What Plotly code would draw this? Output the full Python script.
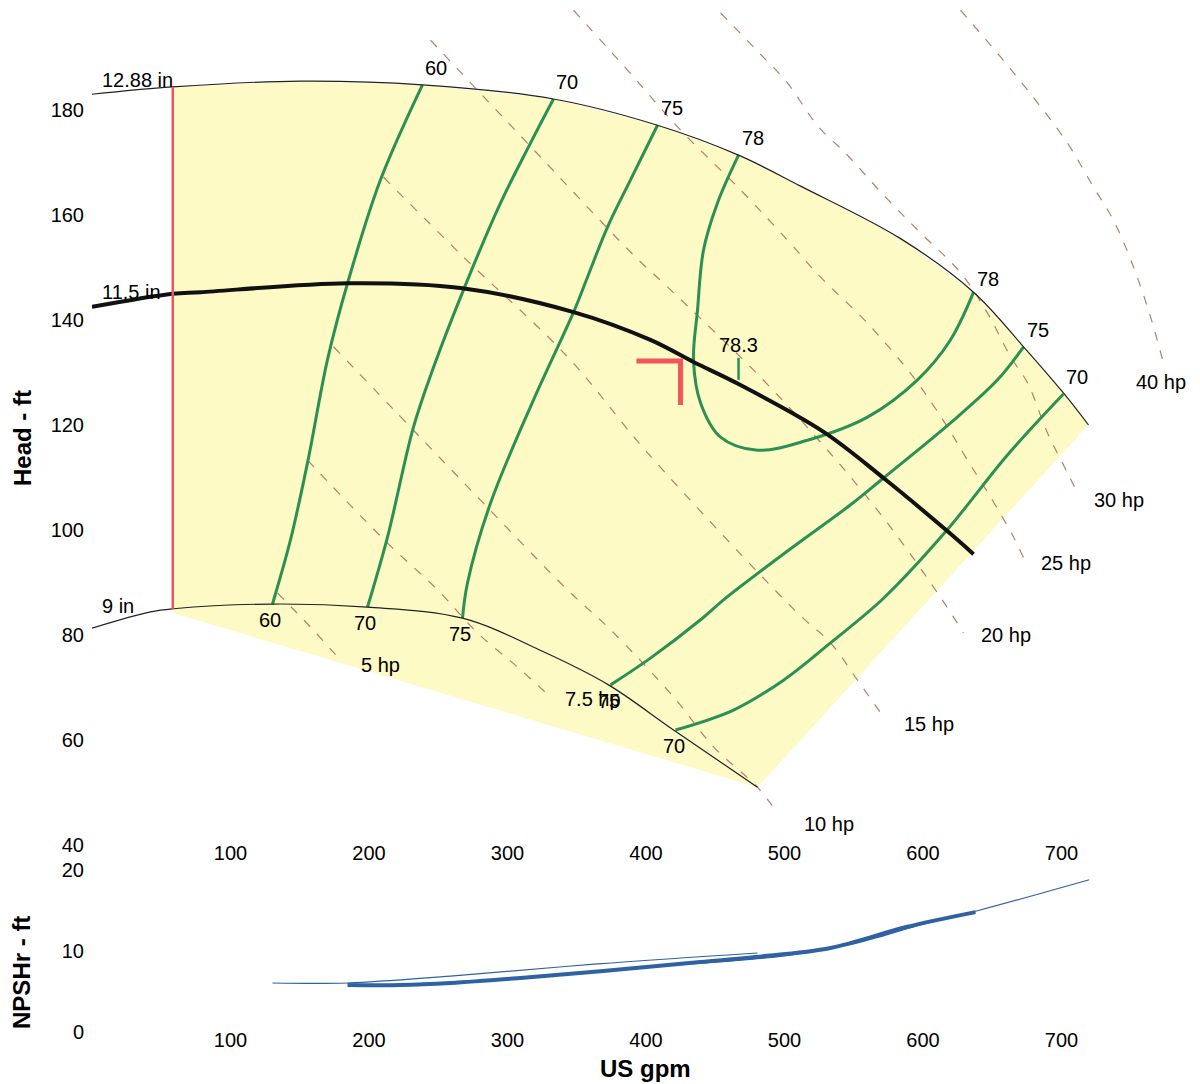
import plotly.graph_objects as go

# ---------------- Data ----------------
flow_ticks = [100, 200, 300, 400, 500, 600, 700]
head_ticks = [40, 60, 80, 100, 120, 140, 160, 180]
npsh_ticks = [0, 10, 20]

# Impeller diameter curves (US gpm, ft)
d1288_q = [0, 58.1, 150.5, 238.6, 333.2, 408.3, 466.8, 511.6, 583.8, 636.5, 672.6, 701.4, 719.5]
d1288_h = [183.0, 184.4, 185.5, 184.8, 182.1, 177.1, 171.4, 165.5, 155.5, 145.3, 134.9, 126.1, 120.0]
d115_q = [0, 58.1, 78.3, 184.5, 266.1, 347.7, 403.2, 434.3, 466.8, 528.2, 571.5, 618.4, 636.5]
d115_h = [142.5, 145.0, 145.3, 147.0, 146.1, 141.5, 136.2, 132.0, 127.8, 118.7, 109.9, 99.6, 95.4]
d9_q = [0, 42.2, 58.8, 130.3, 198.9, 267.5, 326.0, 372.9, 419.9, 480.5]
d9_h = [81.3, 84.4, 85.0, 85.9, 85.3, 83.2, 76.8, 70.5, 61.9, 51.0]

# Minimum flow line
minflow_q = [58.3, 58.3]
minflow_h = [85.0, 184.4]

# Operating region outline (yellow)
region_q = [58.3, 150.5, 238.6, 333.2, 408.3, 466.8, 511.6, 583.8, 636.5, 672.6, 701.4, 719.5, 480.5, 58.3]
region_h = [184.4, 185.5, 184.8, 182.1, 177.1, 171.4, 165.5, 155.5, 145.3, 134.9, 126.1, 120.0, 51.0, 84.2]

# Efficiency iso-curves (%)
eff60_q = [238.6, 208.3, 184.5, 170.0, 155.6, 143.3, 130.3]
eff60_h = [184.8, 166.7, 147.0, 132.4, 112.8, 98.1, 85.9]
eff70_q = [333.2, 316.6, 295.0, 269.7, 246.6, 232.1, 213.4, 198.9]
eff70_h = [182.1, 173.7, 162.3, 146.7, 131.0, 119.6, 98.7, 85.3]
eff75_q = [408.3, 388.8, 372.2, 357.8, 347.7, 318.8, 287.7, 271.1, 267.5]
eff75_h = [177.1, 166.7, 157.7, 148.2, 141.5, 124.8, 105.1, 89.9, 83.2]
eff78_q = [466.8, 451.6, 441.5, 437.2, 434.3, 439.4, 453.8, 480.5, 516.6, 559.9, 596.0, 619.8, 636.5]
eff78_h = [171.4, 162.3, 153.3, 141.9, 132.4, 124.2, 117.7, 115.2, 117.1, 121.5, 128.6, 136.2, 145.3]
eff75r_q = [672.6, 653.8, 619.9, 571.5, 547.7, 502.2, 456.0, 439.4, 403.2, 374.4]
eff75r_h = [134.9, 128.6, 120.4, 109.9, 104.8, 96.0, 86.7, 82.9, 75.6, 70.5]
eff70r_q = [701.4, 661.0, 616.1, 571.5, 533.2, 499.3, 463.2, 421.3]
eff70r_h = [125.9, 114.3, 99.6, 87.0, 78.5, 71.4, 65.7, 61.9]

# Best efficiency point tick (78.3 %)
bep_q = [466.8, 466.8]
bep_h = [132.8, 128.6]

# Duty point marker
duty_q = [393.1, 424.9, 424.9]
duty_h = [132.2, 132.2, 123.8]

# Power iso-lines (hp)
hp5_q = [133.9, 157.8, 179.4]
hp5_h = [88.0, 81.5, 75.2]
hp75_q = [155.6, 213.4, 249.5, 278.3, 307.2, 331.0]
hp75_h = [113.3, 97.5, 88.6, 80.4, 73.9, 68.2]
hp10_q = [174.4, 232.1, 278.3, 343.3, 374.4, 419.9, 448.7, 480.5, 494.9]
hp10_h = [134.9, 119.0, 106.3, 88.6, 81.0, 68.2, 58.7, 51.0, 46.1]
hp15_q = [210.5, 268.2, 343.3, 401.1, 509.4, 533.2, 552.7, 571.5]
hp15_h = [167.2, 152.0, 133.0, 114.7, 84.2, 78.5, 71.4, 64.4]
hp20_q = [244.4, 280.4, 314.4, 390.9, 415.5, 482.7, 535.4, 574.4, 612.6, 629.2]
hp20_h = [193.3, 183.2, 173.7, 152.4, 146.3, 129.1, 113.9, 101.3, 87.2, 80.4]
hp25_q = [347.7, 391.0, 422.7, 470.4, 502.2, 525.9, 559.9, 593.1, 617.7, 632.1, 648.7, 665.3, 672.6]
hp25_h = [199.0, 186.3, 176.8, 164.2, 155.2, 148.2, 139.4, 129.1, 119.6, 113.3, 106.3, 98.7, 94.7]
hp30_q = [453.8, 479.8, 502.2, 524.5, 544.0, 572.9, 598.2, 627.1, 646.6, 663.2, 675.5, 689.9, 704.3, 711.6]
hp30_h = [198.5, 191.4, 185.1, 176.8, 171.8, 163.4, 156.6, 149.0, 141.3, 133.0, 128.0, 118.5, 110.9, 107.0]
hp40_q = [627.1, 656.0, 675.5, 704.3, 723.1, 737.5, 752.0, 764.3, 773.6]
hp40_h = [199.0, 190.1, 183.8, 173.7, 165.3, 159.0, 150.1, 140.6, 131.8]

# NPSHr curves (ft)
npsh9_q = [130.3, 184.5, 258.8, 365.0, 480.5]
npsh9_v = [6.05, 6.05, 6.9, 8.4, 9.75]
npsh115_q = [184.5, 222.9, 258.8, 309.4, 367.1, 439.2, 479.0, 533.2, 588.0, 637.9]
npsh115_v = [5.8, 5.8, 6.05, 6.67, 7.5, 8.64, 9.26, 10.37, 12.96, 14.8]
npsh1288_q = [238.6, 300, 400, 500, 550, 600, 640, 720]
npsh1288_v = [6.0, 6.5, 8.0, 9.4, 10.9, 13.3, 15.0, 18.8]

# Label texts / positions (annotation anchors)
dia_labels = ["12.88 in", "11.5 in", "9 in"]
dia_label_q = [6, 6, 6]
dia_label_h = [185.7, 145.3, 85.5]
hp_labels = ["5 hp", "7.5 hp", "10 hp", "15 hp", "20 hp", "25 hp", "30 hp", "40 hp"]
hp_label_q = [208.3, 361.4, 531.8, 604.0, 659.6, 702.9, 741.2, 771.5]
hp_label_h = [74.3, 67.8, 44.0, 63.0, 80.0, 93.7, 105.7, 128.2]

# ---------------- Styles ----------------
FONT = "Liberation Sans, Arial, sans-serif"
GREEN = "#2b9152"
RED = "#f2555a"
YELLOW = "#fefac6"
HPCOL = "rgba(165,105,90,0.85)"
BLUE = "#2f62a3"

fig = go.Figure()


def add(q, h, color, width, xa="x2", ya="y", dash=None, shape="spline"):
    fig.add_trace(go.Scatter(x=q, y=h, mode="lines", xaxis=xa, yaxis=ya,
                             line=dict(color=color, width=width, dash=dash, shape=shape),
                             hoverinfo="skip", showlegend=False))


# operating region
fig.add_trace(go.Scatter(x=region_q, y=region_h, mode="lines", fill="toself",
                         fillcolor=YELLOW, line=dict(width=0, color=YELLOW),
                         xaxis="x2", yaxis="y", hoverinfo="skip", showlegend=False))

# power lines
for q, h in [(hp5_q, hp5_h), (hp75_q, hp75_h), (hp10_q, hp10_h), (hp15_q, hp15_h),
             (hp20_q, hp20_h), (hp25_q, hp25_h), (hp30_q, hp30_h), (hp40_q, hp40_h)]:
    add(q, h, HPCOL, 1.2, dash="9px,10px")

# efficiency curves
effs = [(eff60_q, eff60_h), (eff70_q, eff70_h), (eff75_q, eff75_h), (eff78_q, eff78_h),
        (eff75r_q, eff75r_h), (eff70r_q, eff70r_h)]
for q, h in effs:
    add(q, h, GREEN, 3)
add(bep_q, bep_h, GREEN, 2.5, shape="linear")

# impeller curves
add(d1288_q, d1288_h, "#222222", 1.2)
add(d9_q, d9_h, "#222222", 1.2)
add(d115_q, d115_h, "#111111", 4)

# min flow and duty marker
add(minflow_q, minflow_h, RED, 2.5, shape="linear")
add(duty_q, duty_h, RED, 5, shape="linear")

# NPSH
add(npsh1288_q, npsh1288_v, BLUE, 1.2, xa="x", ya="y2")
add(npsh9_q, npsh9_v, BLUE, 1.2, xa="x", ya="y2")
add(npsh115_q, npsh115_v, BLUE, 4, xa="x", ya="y2")

ann = []
tf = dict(family=FONT, size=20, color="black")


def label(q, h, text, xs=0, ys=0, xanchor="center"):
    ann.append(dict(x=q, y=h, xref="x2", yref="y", text=text, showarrow=False,
                    font=tf, xshift=xs, yshift=ys, xanchor=xanchor, yanchor="middle"))


for t, q, h in zip(dia_labels, dia_label_q, dia_label_h):
    label(q, h, t, xanchor="left")
for t, q, h in zip(hp_labels, hp_label_q, hp_label_h):
    label(q, h, t)

# efficiency labels at curve ends
top_ends = [("60", eff60_q[0], eff60_h[0]), ("70", eff70_q[0], eff70_h[0]),
            ("75", eff75_q[0], eff75_h[0]), ("78", eff78_q[0], eff78_h[0]),
            ("75", eff75r_q[0], eff75r_h[0]), ("70", eff70r_q[0], eff70r_h[0])]
for t, q, h in top_ends:
    label(q, h, t, xs=14, ys=17)
label(eff78_q[-1], eff78_h[-1], "78", xs=14, ys=13)
bot_ends = [("60", eff60_q[-1], eff60_h[-1]), ("70", eff70_q[-1], eff70_h[-1]),
            ("75", eff75_q[-1], eff75_h[-1]), ("75", eff75r_q[-1], eff75r_h[-1]),
            ("70", eff70r_q[-1], eff70r_h[-1])]
for t, q, h in bot_ends:
    label(q, h, t, xs=-2, ys=-16)
label(bep_q[0], bep_h[0], "78.3", ys=13)

# axis titles
bold = dict(family=FONT, size=24, color="black")
ann.append(dict(x=-0.0632, y=0.58, xref="paper", yref="paper", text="<b>Head - ft</b>",
                textangle=-90, showarrow=False, font=bold, xanchor="center", yanchor="middle"))
ann.append(dict(x=-0.0632, y=0.0586, xref="paper", yref="paper", text="<b>NPSHr - ft</b>",
                textangle=-90, showarrow=False, font=bold, xanchor="center", yanchor="middle"))
ann.append(dict(x=0.4991, y=-0.0352, xref="paper", yref="paper", text="<b>US gpm</b>",
                showarrow=False, font=bold, xanchor="center", yanchor="middle"))

tickfont = dict(family=FONT, size=20, color="black")
x_common = dict(showgrid=False, zeroline=False, showline=False, tickfont=tickfont,
                ticks="", ticklabelstandoff=-6, automargin=False)
y_common = dict(showgrid=False, zeroline=False, showline=False, tickfont=tickfont,
                ticks="outside", ticklen=3, tickcolor="rgba(0,0,0,0)", automargin=False)

# the page body adds an 8 px offset; the figure is sized so its plot area lines up
fig.update_layout(
    width=1192, height=1076,
    margin=dict(l=84, r=0, t=0, b=52, autoexpand=False),
    paper_bgcolor="white", plot_bgcolor="white",
    showlegend=False,
    annotations=ann,
    xaxis=dict(domain=[0, 1], range=[0, 800], anchor="y2", tickvals=flow_ticks, **x_common),
    xaxis2=dict(domain=[0, 1], range=[0, 800], anchor="y", tickvals=flow_ticks, **x_common),
    yaxis=dict(domain=[0.18262, 1], range=[40, 199.43], anchor="x2", tickvals=head_ticks, **y_common),
    yaxis2=dict(domain=[0, 0.1582], range=[0, 20], anchor="x", tickvals=npsh_ticks, **y_common),
)

fig.write_html("out.html")
